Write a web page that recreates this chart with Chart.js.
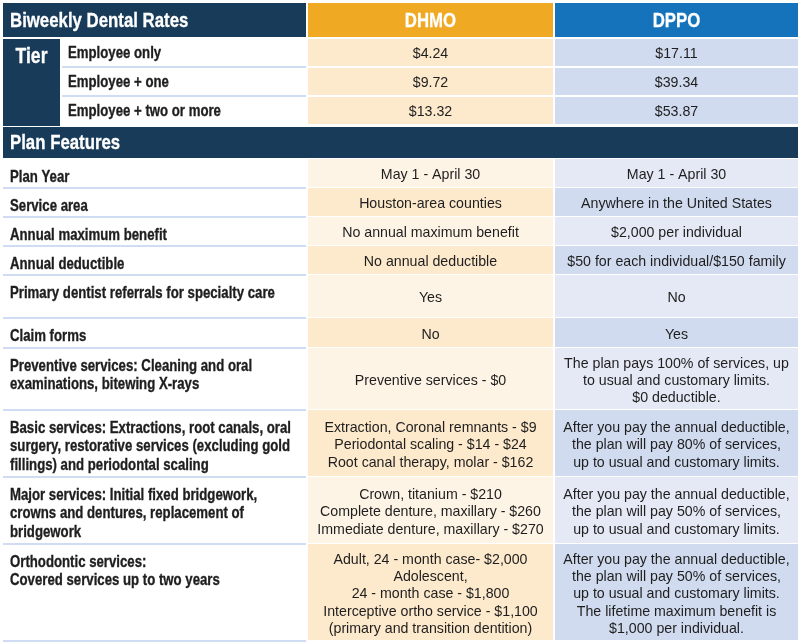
<!DOCTYPE html>
<html>
<head>
<meta charset="utf-8">
<script src="https://cdn.jsdelivr.net/npm/chart.js@4/dist/chart.umd.min.js"></script>
<style>
html,body{margin:0;padding:0;background:#fff;}
#wrap{width:800px;height:643px;}
</style>
</head>
<body>
<div id="wrap"><canvas id="c" width="800" height="643"></canvas></div>
<script>
// ---------- DATA ----------
const title = 'Biweekly Dental Rates';
const plans = ['DHMO', 'DPPO'];
const tierTitle = 'Tier';
const tiers = ['Employee only', 'Employee + one', 'Employee + two or more'];
const dhmoRates = ['$4.24', '$9.72', '$13.32'];
const dppoRates = ['$17.11', '$39.34', '$53.87'];
const sectionTitle = 'Plan Features';
const features = [
  'Plan Year',
  'Service area',
  'Annual maximum benefit',
  'Annual deductible',
  'Primary dentist referrals for specialty care',
  'Claim forms',
  'Preventive services: Cleaning and oral\nexaminations, bitewing X-rays',
  'Basic services: Extractions, root canals, oral\nsurgery, restorative services (excluding gold\nfillings) and periodontal scaling',
  'Major services: Initial fixed bridgework,\ncrowns and dentures, replacement of\nbridgework',
  'Orthodontic services:\nCovered services up to two years'
];
const dhmoFeatures = [
  'May 1 - April 30',
  'Houston-area counties',
  'No annual maximum benefit',
  'No annual deductible',
  'Yes',
  'No',
  'Preventive services - $0',
  'Extraction, Coronal remnants - $9\nPeriodontal scaling - $14 - $24\nRoot canal therapy, molar - $162',
  'Crown, titanium - $210\nComplete denture, maxillary - $260\nImmediate denture, maxillary - $270',
  'Adult, 24 - month case- $2,000\nAdolescent,\n24 - month case - $1,800\nInterceptive ortho service - $1,100\n(primary and transition dentition)'
];
const dppoFeatures = [
  'May 1 - April 30',
  'Anywhere in the United States',
  '$2,000 per individual',
  '$50 for each individual/$150 family',
  'No',
  'Yes',
  'The plan pays 100% of services, up\nto usual and customary limits.\n$0 deductible.',
  'After you pay the annual deductible,\nthe plan will pay 80% of services,\nup to usual and customary limits.',
  'After you pay the annual deductible,\nthe plan will pay 50% of services,\nup to usual and customary limits.',
  'After you pay the annual deductible,\nthe plan will pay 50% of services,\nup to usual and customary limits.\nThe lifetime maximum benefit is\n$1,000 per individual.'
];

// ---------- LAYOUT (scale units) ----------
const colEdges = [3, 306, 553, 798];     // label | DHMO | DPPO
const tierBoxRight = 60;
const headerBand = [3, 37];
const tierRowEdges = [39, 68, 97, 126];
const sectionBand = [127, 158];
const featureRowEdges = [159, 188, 217, 246, 275, 318, 348, 410, 477, 544, 641];

// ---------- STYLE ----------
const navy = '#173b59';
const orange = '#efa922';
const blue = '#1473bb';
const dhmoDark = '#fde9cc', dhmoLight = '#fef4e5';
const dppoDark = '#d1dbef', dppoLight = '#e5e9f5';
const sepBlue = '#bfd0ee';
const textCol = '#1e1e1e';
const boldFam = '"Liberation Sans", Arial, sans-serif';
const regular = '"Liberation Sans", Arial, sans-serif';
const condense = 0.80;   // horizontal squeeze to mimic a condensed bold face

const tablePlugin = {
  id: 'tableDraw',
  beforeDatasetsDraw(chart) {
    const ctx = chart.ctx;
    const xs = chart.scales.x, ys = chart.scales.y;
    const X = v => xs.getPixelForValue(v);
    const Y = v => ys.getPixelForValue(v);
    const rect = (x0, y0, x1, y1, c) => {
      ctx.fillStyle = c;
      ctx.fillRect(X(x0), Y(y0), X(x1) - X(x0), Y(y1) - Y(y0));
    };
    const hline = (x0, x1, y, c, w) => {
      ctx.strokeStyle = c; ctx.lineWidth = w;
      ctx.beginPath(); ctx.moveTo(X(x0), Y(y)); ctx.lineTo(X(x1), Y(y)); ctx.stroke();
    };
    const text = (s, x, y, font, color, align, k, heavy) => {
      ctx.save();
      ctx.font = font; ctx.fillStyle = color; ctx.textAlign = align; ctx.textBaseline = 'middle';
      ctx.translate(X(x), Y(y));
      ctx.scale(k || 1, 1);
      ctx.fillText(s, 0, 0);
      if (heavy) { ctx.strokeStyle = color; ctx.lineWidth = heavy; ctx.strokeText(s, 0, 0); }
      ctx.restore();
    };
    const block = (s, x, yc, font, color, align, lh) => {
      const lines = s.split('\n');
      const start = yc - (lines.length - 1) * lh / 2;
      lines.forEach((ln, i) => text(ln, x, start + i * lh, font, color, align));
    };
    const topBlock = (s, x, y0, font, color, lh, k) => {
      s.split('\n').forEach((ln, i) => text(ln, x, y0 + i * lh, font, color, 'left', k, 0.35));
    };

    const [L, D0, P0, R] = colEdges;
    const hFont = 'bold 21px ' + boldFam;
    const lFont = 'bold 16.5px ' + boldFam;
    const vFont = '14.2px ' + regular;

    // header band
    rect(L, headerBand[0], D0, headerBand[1], navy);
    rect(D0 + 2, headerBand[0], P0, headerBand[1], orange);
    rect(P0 + 2, headerBand[0], R, headerBand[1], blue);
    const hMid = (headerBand[0] + headerBand[1]) / 2 + 1;
    text(title, 10, hMid, hFont, '#fff', 'left', condense, 0.3);
    text(plans[0], (D0 + 2 + P0) / 2, hMid, hFont, '#fff', 'center', condense, 0.3);
    text(plans[1], (P0 + 2 + R) / 2, hMid, hFont, '#fff', 'center', condense, 0.3);

    // tier rows
    rect(L, tierRowEdges[0], tierBoxRight, tierRowEdges[tierRowEdges.length - 1], navy);
    text(tierTitle, (L + tierBoxRight) / 2, (tierRowEdges[0] + tierRowEdges[1]) / 2 + 3, 'bold 22px ' + boldFam, '#fff', 'center', condense, 0.3);
    tiers.forEach((t, i) => {
      const y0 = tierRowEdges[i], y1 = tierRowEdges[i + 1];
      rect(D0 + 2, y0, P0, y1 - 2, dhmoDark);
      rect(P0 + 2, y0, R, y1 - 2, dppoDark);
      if (i < tiers.length - 1) hline(tierBoxRight + 2, D0, y1 - 1, sepBlue, 1.5);
      const ym = (y0 + y1) / 2;
      text(t, 68, ym, lFont, textCol, 'left', condense, 0.35);
      text(dhmoRates[i], (D0 + 2 + P0) / 2, ym + 1, vFont, textCol, 'center');
      text(dppoRates[i], (P0 + 2 + R) / 2, ym + 1, vFont, textCol, 'center');
    });

    // section band
    rect(L, sectionBand[0], R, sectionBand[1], navy);
    text(sectionTitle, 10, (sectionBand[0] + sectionBand[1]) / 2 + 1, hFont, '#fff', 'left', condense, 0.3);

    // feature rows
    features.forEach((f, i) => {
      const y0 = featureRowEdges[i], y1 = featureRowEdges[i + 1];
      const dark = i % 2 === 1;
      rect(D0 + 2, y0, P0, y1 - 1, dark ? dhmoDark : dhmoLight);
      rect(P0 + 2, y0, R, y1 - 1, dark ? dppoDark : dppoLight);
      hline(L, D0, y1, sepBlue, 1.5);
      topBlock(f, 10, y0 + 18, lFont, textCol, 18.5, condense);
      const ym = (y0 + y1) / 2 + 2;
      block(dhmoFeatures[i], (D0 + 2 + P0) / 2, ym, vFont, textCol, 'center', 17.3);
      block(dppoFeatures[i], (P0 + 2 + R) / 2, ym, vFont, textCol, 'center', 17.3);
    });
  }
};

new Chart(document.getElementById('c'), {
  type: 'scatter',
  data: { datasets: [{ data: [], pointRadius: 0 }] },
  options: {
    responsive: false,
    devicePixelRatio: 1,
    animation: false,
    layout: { padding: 0 },
    plugins: { legend: { display: false }, tooltip: { enabled: false } },
    scales: {
      x: { type: 'linear', min: 0, max: 800, display: false },
      y: { type: 'linear', min: 0, max: 643, reverse: true, display: false }
    }
  },
  plugins: [tablePlugin]
});
</script>
</body>
</html>
